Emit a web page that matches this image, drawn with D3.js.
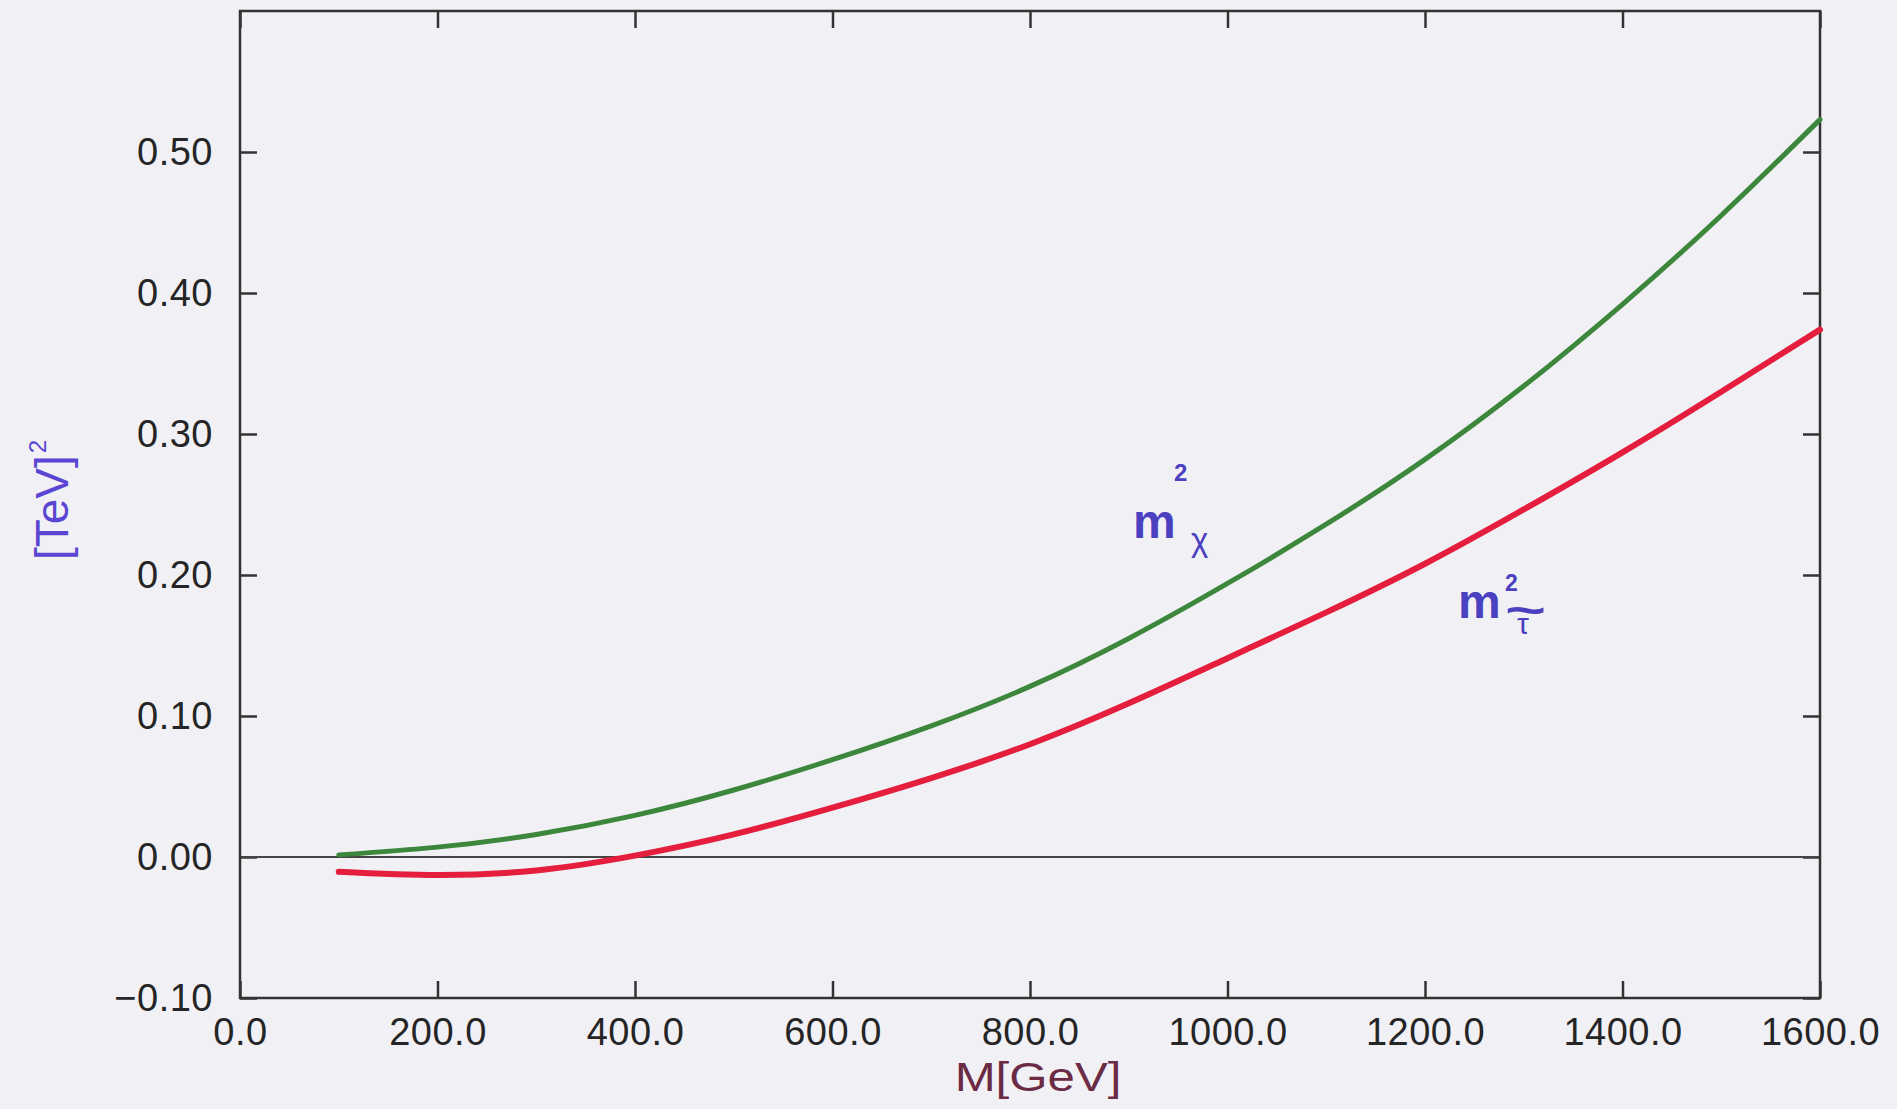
<!DOCTYPE html>
<html>
<head>
<meta charset="utf-8">
<script src="https://cdn.jsdelivr.net/npm/d3@7"></script>
<style>
  body { margin: 0; background: #f1f1f5; }
  text { font-family: "Liberation Sans", Arial, Helvetica, sans-serif; }
  .tick text { fill: #252525; font-size: 38px; letter-spacing: 0.5px; }
  .tick line { stroke: #333; stroke-width: 2.5; }
</style>
</head>
<body>
<div id="chart"></div>
<script>
// M in GeV
var massGeV = [100, 200, 300, 400, 500, 600, 700, 800, 900, 1000, 1100, 1200, 1300, 1400, 1500, 1600];
// m_chi^2 in TeV^2 (green)
var neutralinoSq = [0.0015, 0.0070, 0.0160, 0.0295, 0.0475, 0.0690, 0.0930, 0.1210, 0.1550, 0.1940, 0.2360, 0.2820, 0.3340, 0.3920, 0.4550, 0.5230];
// m_stau^2 in TeV^2 (red)
var stauSq = [-0.0105, -0.0128, -0.0095, 0.0010, 0.0160, 0.0350, 0.0560, 0.0800, 0.1090, 0.1410, 0.1735, 0.2080, 0.2465, 0.2870, 0.3300, 0.3740];

var xTicks = [0, 200, 400, 600, 800, 1000, 1200, 1400, 1600];
var yTicks = [-0.1, 0, 0.1, 0.2, 0.3, 0.4, 0.5];

var svgWidth = 1897;
var svgHeight = 1109;

// plot box (window.top is reserved, so use other names)
var plotLeft = 240, plotRight = 1820, plotTop = 11, plotBottom = 998;

var svg = d3.select("#chart")
  .append("svg")
  .attr("width", svgWidth)
  .attr("height", svgHeight);

var x = d3.scaleLinear().domain([0, 1600]).range([plotLeft, plotRight]);
var y = d3.scaleLinear().domain([-0.1, 0.6]).range([plotBottom, plotTop]);

// bottom axis with labels, ticks pointing inward
svg.append("g")
  .attr("transform", `translate(0, ${plotBottom})`)
  .call(d3.axisBottom(x).tickValues(xTicks).tickSize(-17).tickPadding(20).tickFormat(d3.format(".1f")))
  .call(g => g.select(".domain").remove());

// left axis with labels
svg.append("g")
  .attr("transform", `translate(${plotLeft}, 0)`)
  .call(d3.axisLeft(y).tickValues(yTicks).tickSize(-17).tickPadding(27).tickFormat(d3.format(".2f")))
  .call(g => g.select(".domain").remove());

// top and right: ticks only
svg.append("g")
  .attr("transform", `translate(0, ${plotTop})`)
  .call(d3.axisTop(x).tickValues(xTicks).tickSize(-17).tickFormat(""))
  .call(g => g.select(".domain").remove());

svg.append("g")
  .attr("transform", `translate(${plotRight}, 0)`)
  .call(d3.axisRight(y).tickValues(yTicks).tickSize(-17).tickFormat(""))
  .call(g => g.select(".domain").remove());

// zero line
svg.append("line")
  .attr("x1", plotLeft).attr("x2", plotRight)
  .attr("y1", y(0)).attr("y2", y(0))
  .attr("stroke", "#444")
  .attr("stroke-width", 2);

// frame
svg.append("rect")
  .attr("x", plotLeft).attr("y", plotTop)
  .attr("width", plotRight - plotLeft).attr("height", plotBottom - plotTop)
  .attr("fill", "none")
  .attr("stroke", "#333")
  .attr("stroke-width", 2.5);

var line = d3.line()
  .x(d => x(d[0]))
  .y(d => y(d[1]))
  .curve(d3.curveNatural);

svg.append("path")
  .datum(d3.zip(massGeV, stauSq))
  .attr("d", line)
  .attr("fill", "none")
  .attr("stroke", "#e41e3c")
  .attr("stroke-width", 6)
  .attr("stroke-linecap", "round");

svg.append("path")
  .datum(d3.zip(massGeV, neutralinoSq))
  .attr("d", line)
  .attr("fill", "none")
  .attr("stroke", "#3c873c")
  .attr("stroke-width", 5)
  .attr("stroke-linecap", "round");

// x label
svg.append("text")
  .attr("transform", "translate(1038, 1091) scale(1.2, 1)")
  .attr("text-anchor", "middle")
  .attr("fill", "#6b2b44")
  .style("font-size", "41px")
  .text("M[GeV]");

// y label
var yLabel = svg.append("text")
  .attr("transform", "translate(68, 560) rotate(-90)")
  .attr("fill", "#5a46d2")
  .style("font-size", "46px");
yLabel.append("tspan").text("[TeV]");
yLabel.append("tspan").attr("dx", 2).attr("dy", -22).style("font-size", "24px").text("2");

// curve labels
var labelColor = "#4a40c0";

svg.append("text").attr("x", 1133).attr("y", 538)
  .attr("fill", labelColor).style("font-size", "48px").style("font-weight", "bold").text("m");
svg.append("text").attr("x", 1174).attr("y", 481)
  .attr("fill", labelColor).style("font-size", "24px").style("font-weight", "bold").text("2");
svg.append("text").attr("x", 1191).attr("y", 551)
  .attr("fill", labelColor).style("font-size", "33px").text("χ");

svg.append("text").attr("x", 1458).attr("y", 618)
  .attr("fill", labelColor).style("font-size", "48px").style("font-weight", "bold").text("m");
svg.append("text").attr("x", 1505).attr("y", 591)
  .attr("fill", labelColor).style("font-size", "23px").style("font-weight", "bold").text("2");
svg.append("text")
  .attr("transform", "translate(1505, 625) scale(1.6, 1)")
  .attr("fill", labelColor).style("font-size", "44px").style("font-weight", "bold").text("~");
svg.append("text").attr("x", 1517).attr("y", 634)
  .attr("fill", labelColor).style("font-size", "30px").text("τ");
</script>
</body>
</html>
